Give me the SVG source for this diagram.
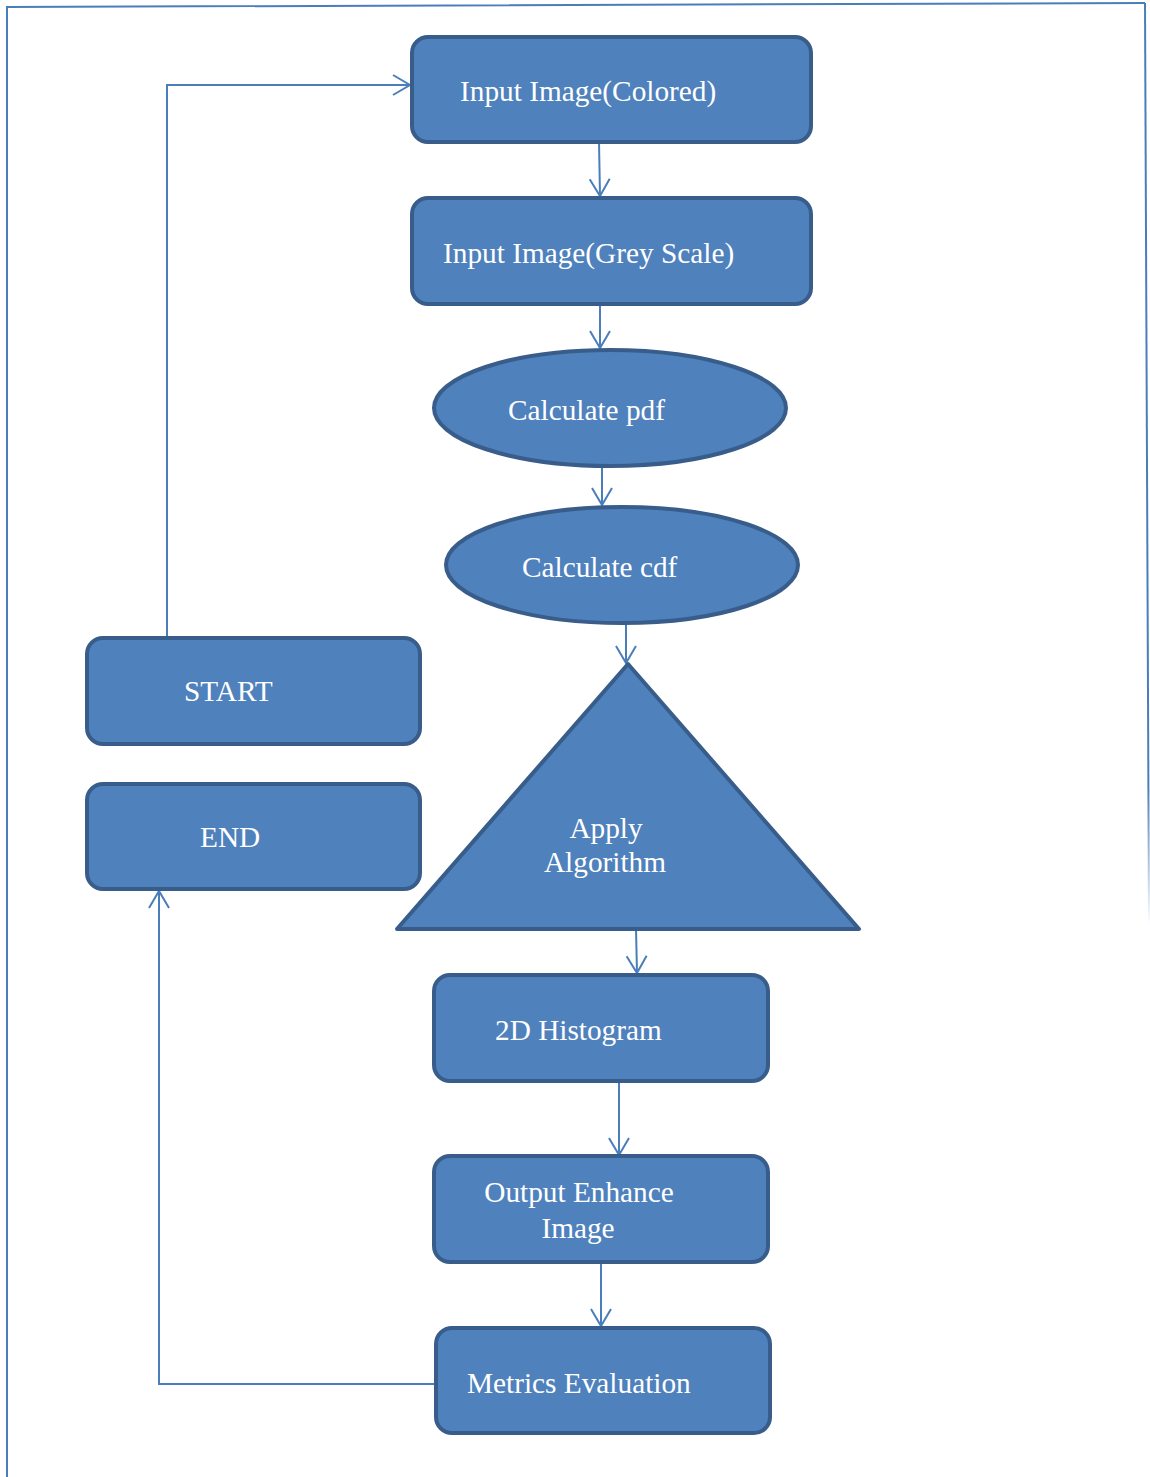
<svg xmlns="http://www.w3.org/2000/svg" width="1150" height="1477" viewBox="0 0 1150 1477">
<style>
.box{fill:#4F81BD;stroke:#385D8A;stroke-width:4}
.lbl{font-family:"Liberation Serif","Times New Roman",serif;font-size:29.3px;fill:#FFFFFF}
.con{fill:none;stroke:#4A7EBB;stroke-width:2}
.frame{fill:none;stroke:#4A7EBB;stroke-width:2}
</style>
<defs>
<marker id="arr" markerUnits="userSpaceOnUse" markerWidth="40" markerHeight="40" viewBox="-20 -20 40 40" refX="0" refY="0" orient="auto">
<path d="M-17,-10 L0,0 L-17,10" fill="none" stroke="#4A7EBB" stroke-width="2"/>
</marker>
<linearGradient id="fade" x1="0" y1="0" x2="0" y2="1">
<stop offset="0.85" stop-color="#4A7EBB" stop-opacity="1"/>
<stop offset="1" stop-color="#4A7EBB" stop-opacity="0"/>
</linearGradient>
</defs>
<g id="frame">
<path class="frame" d="M7,1477 L7,7 L1145,3"/>
<path d="M1145,3 L1149,925" fill="none" stroke="url(#fade)" stroke-width="2"/>
</g>
<g id="connectors">
<path class="con" d="M599,142 L600,196" marker-end="url(#arr)"/>
<path class="con" d="M600,304 L600,348" marker-end="url(#arr)"/>
<path class="con" d="M602,466 L602,505" marker-end="url(#arr)"/>
<path class="con" d="M626,623 L626,663" marker-end="url(#arr)"/>
<path class="con" d="M636,929 L637,973" marker-end="url(#arr)"/>
<path class="con" d="M619,1081 L619,1155" marker-end="url(#arr)"/>
<path class="con" d="M601,1262 L601,1326" marker-end="url(#arr)"/>
<path class="con" d="M167,637 L167,85 L410,85" marker-end="url(#arr)"/>
<path class="con" d="M434,1384 L159,1384 L159,891" marker-end="url(#arr)"/>
</g>
<g id="input-colored">
<rect class="box" x="412" y="37" width="399" height="105" rx="16"/>
<text class="lbl" x="460" y="101">Input Image(Colored)</text>
</g>
<g id="input-grey">
<rect class="box" x="412" y="198" width="399" height="106" rx="16"/>
<text class="lbl" x="443" y="263">Input Image(Grey Scale)</text>
</g>
<g id="calc-pdf">
<ellipse class="box" cx="610" cy="408" rx="176" ry="58"/>
<text class="lbl" x="508" y="420">Calculate pdf</text>
</g>
<g id="calc-cdf">
<ellipse class="box" cx="622" cy="565" rx="176" ry="58"/>
<text class="lbl" x="522" y="577">Calculate cdf</text>
</g>
<g id="apply-algorithm">
<path class="box" d="M628,664 L859,929 L397,929 Z" stroke-linejoin="round"/>
<text class="lbl" x="606" y="838" text-anchor="middle">Apply</text>
<text class="lbl" x="605" y="872" text-anchor="middle">Algorithm</text>
</g>
<g id="histogram">
<rect class="box" x="434" y="975" width="334" height="106" rx="16"/>
<text class="lbl" x="495" y="1040">2D Histogram</text>
</g>
<g id="output">
<rect class="box" x="434" y="1156" width="334" height="106" rx="16"/>
<text class="lbl" x="579" y="1202" text-anchor="middle">Output Enhance</text>
<text class="lbl" x="578" y="1238" text-anchor="middle">Image</text>
</g>
<g id="metrics">
<rect class="box" x="436" y="1328" width="334" height="105" rx="16"/>
<text class="lbl" x="467" y="1393">Metrics Evaluation</text>
</g>
<g id="start">
<rect class="box" x="87" y="638" width="333" height="106" rx="16"/>
<text class="lbl" x="184" y="701">START</text>
</g>
<g id="end">
<rect class="box" x="87" y="784" width="333" height="105" rx="16"/>
<text class="lbl" x="200" y="847">END</text>
</g>
</svg>
